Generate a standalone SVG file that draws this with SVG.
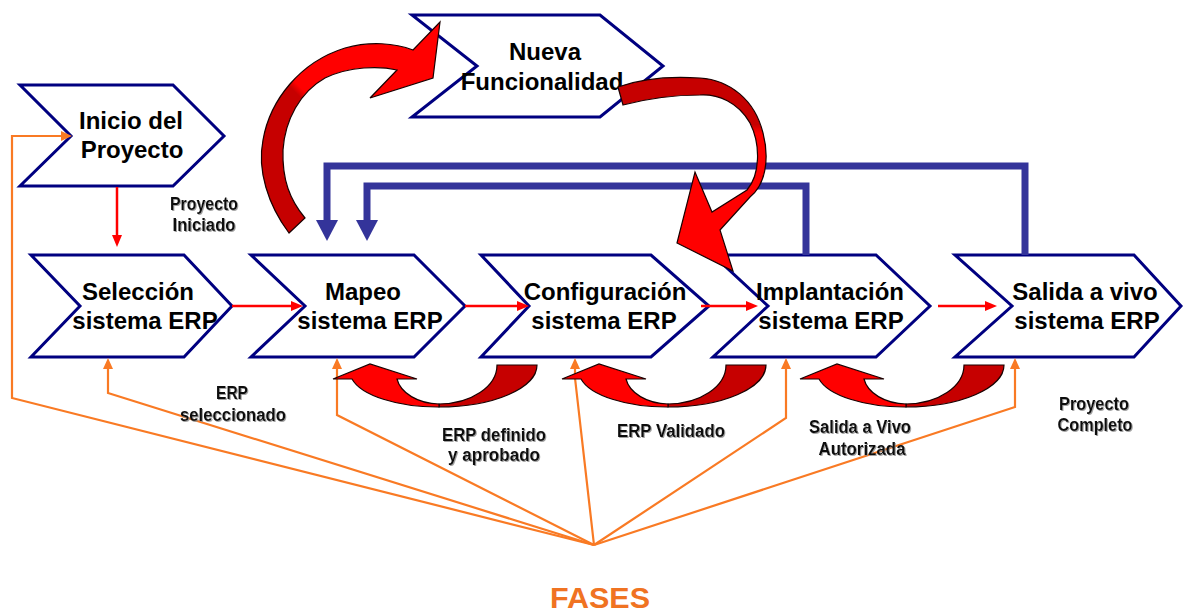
<svg xmlns="http://www.w3.org/2000/svg" width="1184" height="615" viewBox="0 0 1184 615">
  <style>
    .chev { fill: #ffffff; stroke: #000080; stroke-width: 3; stroke-linejoin: miter; }
    .ttl { font-family: "Liberation Sans", Arial, sans-serif; font-weight: bold; font-size: 24px; fill: #000; text-anchor: middle; }
    .lbl { font-family: "Liberation Sans Narrow", "Liberation Sans", Arial, sans-serif; font-weight: bold; font-size: 18px; fill: #111; text-anchor: middle; filter: url(#soft); }
    .flow { stroke: #ff0000; stroke-width: 2.5; fill: none; }
    .flowhead { fill: #ff0000; }
    .phase { stroke: #f97a24; stroke-width: 2.2; fill: none; stroke-linejoin: miter; }
    .phasehead { fill: #f97a24; }
    .loop { stroke: #34349a; stroke-width: 7; fill: none; stroke-linejoin: miter; }
    .loophead { fill: #34349a; }
    .ribbon { stroke: #1a0000; stroke-width: 1.2; stroke-linejoin: miter; }
    .bright { fill: #ff0000; }
    .dark { fill: #c60000; }
    .fases { font-family: "Liberation Sans", Arial, sans-serif; font-weight: bold; font-size: 30px; fill: #f07322; text-anchor: middle; }
  </style>
  <defs>
    <filter id="soft" x="-10%" y="-30%" width="130%" height="170%">
      <feDropShadow dx="1" dy="1" stdDeviation="0.7" flood-color="#8a8a8a" flood-opacity="0.8"/>
    </filter>
    <!-- ribbon shading: back side dark, front side bright -->
    <linearGradient id="arcLeft" gradientUnits="userSpaceOnUse" x1="270" y1="113" x2="320" y2="63">
      <stop offset="0" stop-color="#c60000"/>
      <stop offset="0.46" stop-color="#c60000"/>
      <stop offset="0.56" stop-color="#ff0000"/>
      <stop offset="1" stop-color="#ff0000"/>
    </linearGradient>
    <linearGradient id="arcRight" gradientUnits="userSpaceOnUse" x1="0" y1="118" x2="0" y2="140">
      <stop offset="0" stop-color="#c60000"/>
      <stop offset="0.3" stop-color="#c60000"/>
      <stop offset="0.7" stop-color="#ff0000"/>
      <stop offset="1" stop-color="#ff0000"/>
    </linearGradient>
  </defs>

  <!-- phase nodes -->
  <g id="inicio">
    <polygon class="chev" points="20,85 173,85 224,136 173,186 20,186 71,136"/>
    <text class="ttl" x="131" y="129">Inicio del</text>
    <text class="ttl" x="132" y="158">Proyecto</text>
  </g>
  <g id="nueva">
    <polygon class="chev" points="412,15 600,15 663,66 600,117 412,117 477,66"/>
    <text class="ttl" x="545" y="60">Nueva</text>
    <text class="ttl" x="542" y="90">Funcionalidad</text>
  </g>
  <g id="seleccion">
    <polygon class="chev" points="31,255 184,255 232,306 184,357 31,357 80,306"/>
    <text class="ttl" x="138" y="300">Selección</text>
    <text class="ttl" x="145" y="329">sistema ERP</text>
  </g>
  <g id="mapeo">
    <polygon class="chev" points="251,255 414,255 465,306 414,357 251,357 305,306"/>
    <text class="ttl" x="363" y="300">Mapeo</text>
    <text class="ttl" x="370" y="329">sistema ERP</text>
  </g>
  <g id="configuracion">
    <polygon class="chev" points="481,255 651,255 709,306 651,357 481,357 529,306"/>
    <text class="ttl" x="605" y="300">Configuración</text>
    <text class="ttl" x="604" y="329">sistema ERP</text>
  </g>
  <g id="implantacion">
    <polygon class="chev" points="713,255 876,255 930,306 876,357 713,357 768,306"/>
    <text class="ttl" x="830" y="300">Implantación</text>
    <text class="ttl" x="831" y="329">sistema ERP</text>
  </g>
  <g id="salida">
    <polygon class="chev" points="955,255 1134,255 1181,306 1134,357 955,357 1012,306"/>
    <text class="ttl" x="1085" y="300">Salida a vivo</text>
    <text class="ttl" x="1087" y="329">sistema ERP</text>
  </g>

  <!-- connectors -->
  <g id="connectors">
    <!-- feedback loops back to Mapeo -->
    <path class="loop" d="M1025,255 V166 H327 V222"/>
    <polygon class="loophead" points="316,220 338,220 327,241"/>
    <path class="loop" d="M806,255 V186 H367 V222"/>
    <polygon class="loophead" points="356,220 378,220 367,241"/>

    <!-- main flow -->
    <line class="flow" x1="117" y1="187" x2="117" y2="236"/>
    <polygon class="flowhead" points="117,247 112,235 122,235"/>
    <line class="flow" x1="232" y1="306" x2="292" y2="306"/>
    <polygon class="flowhead" points="303,306 291,301 291,311"/>
    <line class="flow" x1="465" y1="306" x2="518" y2="306"/>
    <polygon class="flowhead" points="529,306 517,301 517,311"/>
    <line class="flow" x1="701" y1="306" x2="747" y2="306"/>
    <polygon class="flowhead" points="758,306 746,301 746,311"/>
    <line class="flow" x1="938" y1="306" x2="986" y2="306"/>
    <polygon class="flowhead" points="997,306 985,301 985,311"/>

    <!-- phase pointers from FASES -->
    <polyline class="phase" points="594,545 12,398 12,136 63,136"/>
    <polygon class="phasehead" points="72,136 61,131 61,141"/>
    <polyline class="phase" points="594,545 108,393 108,367"/>
    <polygon class="phasehead" points="108,358 103,369 113,369"/>
    <polyline class="phase" points="594,545 337,415 337,367"/>
    <polygon class="phasehead" points="337,358 332,369 342,369"/>
    <polyline class="phase" points="594,545 575,378 575,367"/>
    <polygon class="phasehead" points="575,358 570,369 580,369"/>
    <polyline class="phase" points="594,545 786,418 786,367"/>
    <polygon class="phasehead" points="786,358 781,369 791,369"/>
    <polyline class="phase" points="594,545 1015,407 1015,367"/>
    <polygon class="phasehead" points="1015,358 1010,369 1020,369"/>

    <!-- Mapeo to Nueva Funcionalidad -->
    <path class="ribbon" fill="url(#arcLeft)" d="M289,233 C268,205 257,170 263,140 C270,100 300,62 345,48 C370,41 395,43 413,50 L440,22 L433,78 L370,98 L397,70 C380,66 350,66 325,78 C300,92 285,120 283,150 C282,180 290,200 305,218 Z"/>
    <!-- Nueva Funcionalidad to Implantacion -->
    <path class="ribbon" fill="url(#arcRight)" d="M618,87 C640,79 670,76 700,78 C730,80 755,100 763,133 C770,160 765,185 750,197 L720,230 L733,271 L677,243 L695,172 L712,212 L747,190 C760,175 761,145 750,123 C738,102 718,94 700,95 C675,95 650,98 623,105 Z"/>

    <!-- rework loops under the phases -->
    <g id="rework1">
      <path class="ribbon dark" d="M439,407 A98,42 0 0 0 537,365 L497,365 A58,39 0 0 1 439,404 Z"/>
      <path class="ribbon bright" d="M333,379 L370,364 L417,379 L397,379 A44,30 0 0 0 439,404 L439,407 A88,36 0 0 1 352,379 Z"/>
    </g>
    <g id="rework2">
      <path class="ribbon dark" d="M668,407 A98,42 0 0 0 766,365 L726,365 A58,39 0 0 1 668,404 Z"/>
      <path class="ribbon bright" d="M562,379 L599,364 L646,379 L626,379 A44,30 0 0 0 668,404 L668,407 A88,36 0 0 1 581,379 Z"/>
    </g>
    <g id="rework3">
      <path class="ribbon dark" d="M906,407 A98,42 0 0 0 1004,365 L964,365 A58,39 0 0 1 906,404 Z"/>
      <path class="ribbon bright" d="M800,379 L837,364 L884,379 L864,379 A44,30 0 0 0 906,404 L906,407 A88,36 0 0 1 819,379 Z"/>
    </g>
  </g>

  <!-- milestone labels -->
  <g id="labels">
    <text class="lbl" x="204" y="210" textLength="68" lengthAdjust="spacingAndGlyphs">Proyecto</text>
    <text class="lbl" x="204" y="231" textLength="63" lengthAdjust="spacingAndGlyphs">Iniciado</text>
    <text class="lbl" x="232" y="399" textLength="32" lengthAdjust="spacingAndGlyphs">ERP</text>
    <text class="lbl" x="233" y="421" textLength="106" lengthAdjust="spacingAndGlyphs">seleccionado</text>
    <text class="lbl" x="494" y="441" textLength="104" lengthAdjust="spacingAndGlyphs">ERP definido</text>
    <text class="lbl" x="494" y="461" textLength="92" lengthAdjust="spacingAndGlyphs">y aprobado</text>
    <text class="lbl" x="671" y="437" textLength="108" lengthAdjust="spacingAndGlyphs">ERP Validado</text>
    <text class="lbl" x="860" y="433" textLength="102" lengthAdjust="spacingAndGlyphs">Salida a Vivo</text>
    <text class="lbl" x="862" y="455" textLength="87" lengthAdjust="spacingAndGlyphs">Autorizada</text>
    <text class="lbl" x="1094" y="410" textLength="70" lengthAdjust="spacingAndGlyphs">Proyecto</text>
    <text class="lbl" x="1095" y="431" textLength="75" lengthAdjust="spacingAndGlyphs">Completo</text>
  </g>

  <text class="fases" x="600" y="608" textLength="100" lengthAdjust="spacingAndGlyphs">FASES</text>
</svg>
